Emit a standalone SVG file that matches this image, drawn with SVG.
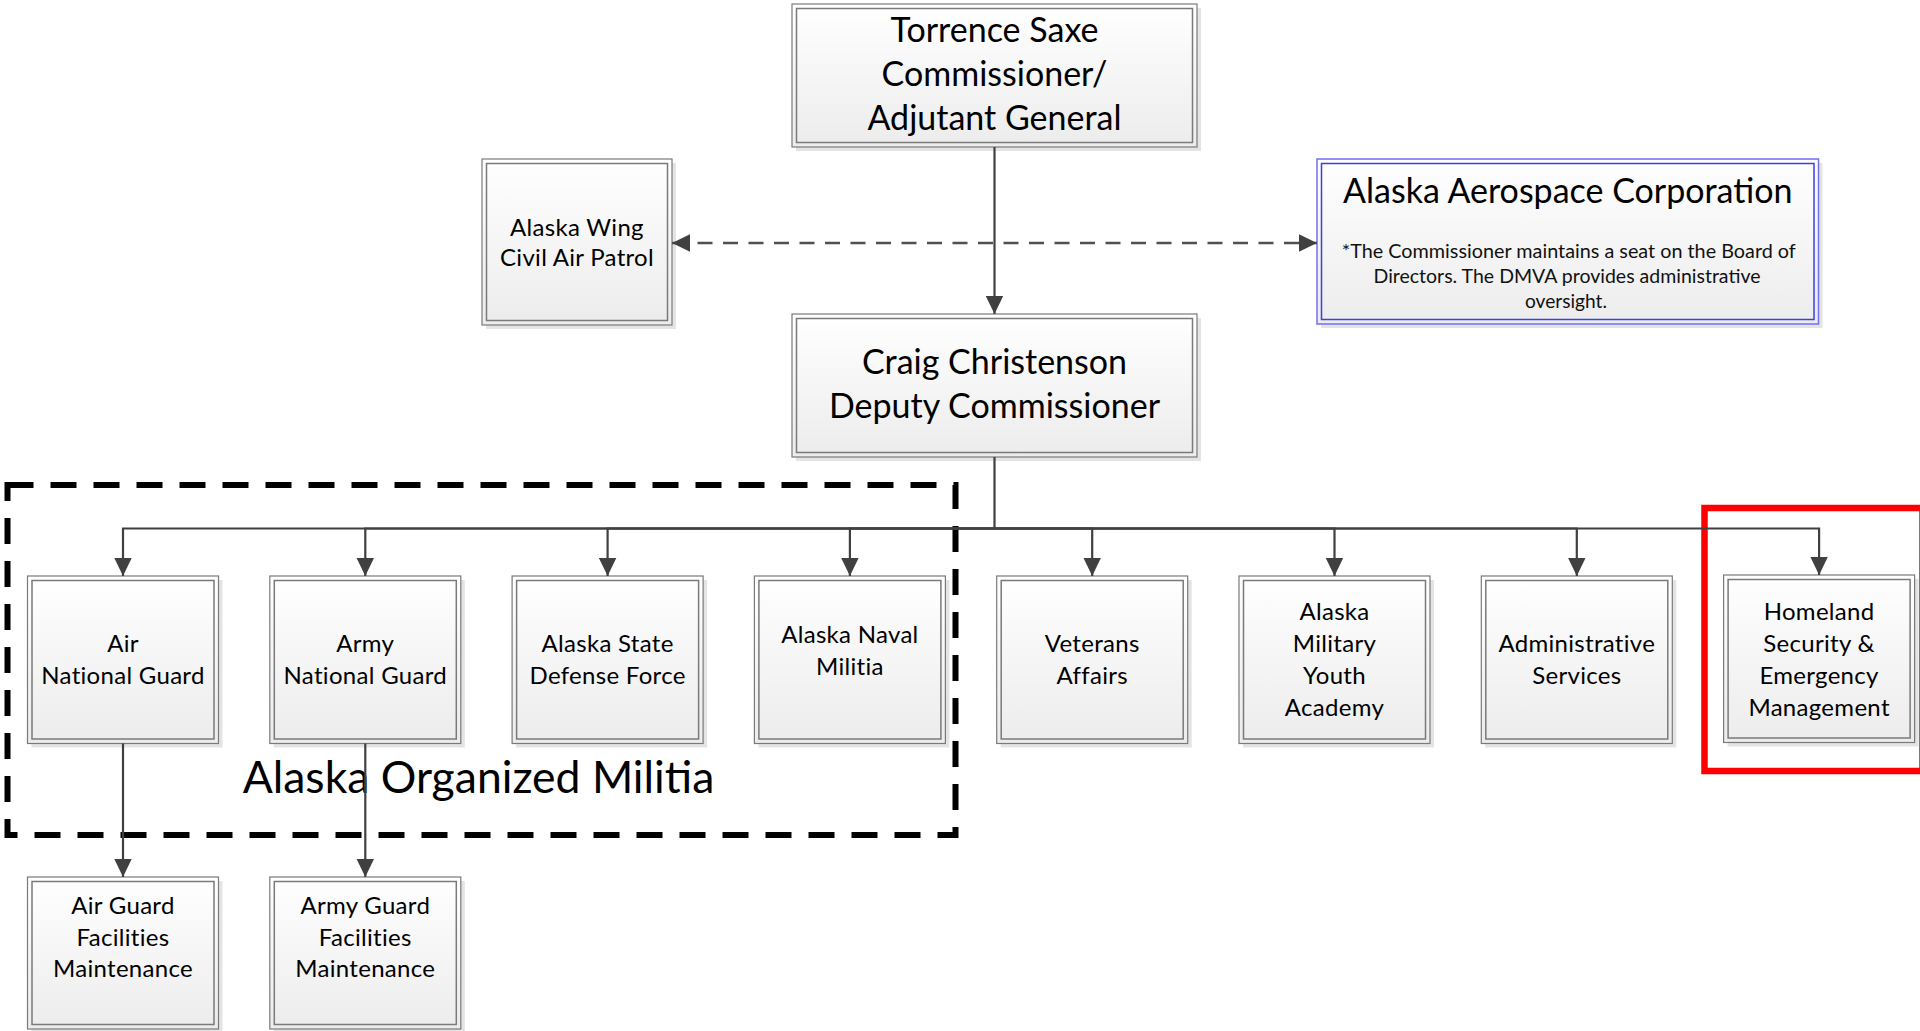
<svg xmlns="http://www.w3.org/2000/svg" width="1920" height="1031" viewBox="0 0 1920 1031">
<defs>
<linearGradient id="g" x1="0" y1="0" x2="0" y2="1">
<stop offset="0" stop-color="#ffffff"/>
<stop offset="1" stop-color="#ececec"/>
</linearGradient>
<marker id="ah" viewBox="0 -9 18 18" refX="18" refY="0" markerWidth="18" markerHeight="18" markerUnits="userSpaceOnUse" orient="auto-start-reverse">
<path d="M0,-8.7 L18,0 L0,8.7 z" fill="#404040"/>
</marker>
<style>
.sh{fill:#e4e4e4;stroke:none}
.ob{fill:url(#g);stroke:#7a7a7a;stroke-width:1.2}
.ib{fill:none;stroke:#7a7a7a;stroke-width:1.5}
.obb{fill:url(#g);stroke:#6f6ff5;stroke-width:1.5}
.ibb{fill:none;stroke:#3d3df0;stroke-width:1.5}
text{font-family:Lato,"Liberation Sans",sans-serif;fill:#000;text-anchor:middle}
.big{font-size:34px}
.sm{font-size:24px;letter-spacing:0.3px}
.note{font-size:19.5px;fill:#111}
.mil{font-size:44.5px}
.con{fill:none;stroke:#404040;stroke-width:2.2}
.dash{fill:none;stroke:#505050;stroke-width:2.6;stroke-dasharray:15 10.5}
</style>
</defs>

<g id="militia-group">
<rect x="7.5" y="485" width="948" height="350" fill="none" stroke="#000" stroke-width="6" stroke-dasharray="26 17"/>
<text class="mil" x="478.5" y="793">Alaska Organized Militia</text>
</g>

<g id="highlight">
<rect x="1704.5" y="508" width="218" height="263" fill="none" stroke="#ff0000" stroke-width="6.5"/>
</g>

<g id="torrence">
<rect class="sh" x="796" y="8" width="405" height="143"/>
<rect class="ob" x="792" y="4" width="405" height="143"/>
<rect class="ib" x="796.5" y="8.5" width="396" height="134"/>
<text class="big" x="994.5" y="42">Torrence Saxe</text>
<text class="big" x="994.5" y="86">Commissioner/</text>
<text class="big" x="994.5" y="129.5">Adjutant General</text>
</g>

<g id="civil-air-patrol">
<rect class="sh" x="486" y="163" width="190" height="166"/>
<rect class="ob" x="482" y="159" width="190" height="166"/>
<rect class="ib" x="486.5" y="163.5" width="181" height="157"/>
<text class="sm" x="577" y="236">Alaska Wing</text>
<text class="sm" x="577" y="265.5">Civil Air Patrol</text>
</g>

<g id="aerospace">
<rect class="sh" x="1321" y="163" width="501.5" height="165"/>
<rect class="obb" x="1317" y="159" width="501.5" height="165"/>
<rect class="ibb" x="1321.5" y="163.5" width="492.5" height="156"/>
<text class="big" x="1567.8" y="203.3">Alaska Aerospace Corporation</text>
<text class="note" x="1568.8" y="258.3" textLength="454" lengthAdjust="spacingAndGlyphs">*The Commissioner maintains a seat on the Board of</text>
<text class="note" x="1567" y="283.3" textLength="387" lengthAdjust="spacingAndGlyphs">Directors. The DMVA provides administrative</text>
<text class="note" x="1566" y="308.3" textLength="82" lengthAdjust="spacingAndGlyphs">oversight.</text>
</g>

<g id="craig">
<rect class="sh" x="796" y="318" width="405" height="143"/>
<rect class="ob" x="792" y="314" width="405" height="143"/>
<rect class="ib" x="796.5" y="318.5" width="396" height="134"/>
<text class="big" x="994.5" y="373.5">Craig Christenson</text>
<text class="big" x="994.5" y="418">Deputy Commissioner</text>
</g>

<g id="air-national-guard">
<rect class="sh" x="31.5" y="580" width="191" height="167.5"/>
<rect class="ob" x="27.5" y="576" width="191" height="167.5"/>
<rect class="ib" x="32" y="580.5" width="182" height="158.5"/>
<text class="sm" x="123" y="652">Air</text>
<text class="sm" x="123" y="684">National Guard</text>
</g>

<g id="army-national-guard">
<rect class="sh" x="273.8" y="580" width="191" height="167.5"/>
<rect class="ob" x="269.8" y="576" width="191" height="167.5"/>
<rect class="ib" x="274.3" y="580.5" width="182" height="158.5"/>
<text class="sm" x="365.3" y="652">Army</text>
<text class="sm" x="365.3" y="684">National Guard</text>
</g>

<g id="state-defense-force">
<rect class="sh" x="516.1" y="580" width="191" height="167.5"/>
<rect class="ob" x="512.1" y="576" width="191" height="167.5"/>
<rect class="ib" x="516.6" y="580.5" width="182" height="158.5"/>
<text class="sm" x="607.6" y="652">Alaska State</text>
<text class="sm" x="607.6" y="684">Defense Force</text>
</g>

<g id="naval-militia">
<rect class="sh" x="758.4" y="580" width="191" height="167.5"/>
<rect class="ob" x="754.4" y="576" width="191" height="167.5"/>
<rect class="ib" x="758.9" y="580.5" width="182" height="158.5"/>
<text class="sm" x="849.9" y="643">Alaska Naval</text>
<text class="sm" x="849.9" y="675">Militia</text>
</g>

<g id="veterans-affairs">
<rect class="sh" x="1000.7" y="580" width="191" height="167.5"/>
<rect class="ob" x="996.7" y="576" width="191" height="167.5"/>
<rect class="ib" x="1001.2" y="580.5" width="182" height="158.5"/>
<text class="sm" x="1092.2" y="652">Veterans</text>
<text class="sm" x="1092.2" y="684">Affairs</text>
</g>

<g id="youth-academy">
<rect class="sh" x="1243" y="580" width="191" height="167.5"/>
<rect class="ob" x="1239" y="576" width="191" height="167.5"/>
<rect class="ib" x="1243.5" y="580.5" width="182" height="158.5"/>
<text class="sm" x="1334.5" y="620">Alaska</text>
<text class="sm" x="1334.5" y="652">Military</text>
<text class="sm" x="1334.5" y="684">Youth</text>
<text class="sm" x="1334.5" y="716">Academy</text>
</g>

<g id="administrative-services">
<rect class="sh" x="1485.3" y="580" width="191" height="167.5"/>
<rect class="ob" x="1481.3" y="576" width="191" height="167.5"/>
<rect class="ib" x="1485.8" y="580.5" width="182" height="158.5"/>
<text class="sm" x="1576.8" y="652">Administrative</text>
<text class="sm" x="1576.8" y="684">Services</text>
</g>

<g id="homeland-security">
<rect class="sh" x="1727.6" y="579" width="191" height="167.5"/>
<rect class="ob" x="1723.6" y="575" width="191" height="167.5"/>
<rect class="ib" x="1728.1" y="579.5" width="182" height="158.5"/>
<text class="sm" x="1819.1" y="620">Homeland</text>
<text class="sm" x="1819.1" y="652">Security &amp;</text>
<text class="sm" x="1819.1" y="684">Emergency</text>
<text class="sm" x="1819.1" y="716">Management</text>
</g>

<g id="air-guard-facilities">
<rect class="sh" x="31.5" y="881" width="191" height="152"/>
<rect class="ob" x="27.5" y="877" width="191" height="152"/>
<rect class="ib" x="32" y="881.5" width="182" height="143"/>
<text class="sm" x="123" y="914">Air Guard</text>
<text class="sm" x="123" y="945.5">Facilities</text>
<text class="sm" x="123" y="977">Maintenance</text>
</g>

<g id="army-guard-facilities">
<rect class="sh" x="273.8" y="881" width="191" height="152"/>
<rect class="ob" x="269.8" y="877" width="191" height="152"/>
<rect class="ib" x="274.3" y="881.5" width="182" height="143"/>
<text class="sm" x="365.3" y="914">Army Guard</text>
<text class="sm" x="365.3" y="945.5">Facilities</text>
<text class="sm" x="365.3" y="977">Maintenance</text>
</g>

<g id="connectors">
<path class="con" d="M994.5,147 V314" marker-end="url(#ah)"/>
<path class="dash" d="M672,243 H1317" marker-start="url(#ah)" marker-end="url(#ah)"/>
<path class="con" d="M994.5,457 V528.5 H123 V576" marker-end="url(#ah)"/>
<path class="con" d="M994.5,528.5 H365.3 V576" marker-end="url(#ah)"/>
<path class="con" d="M994.5,528.5 H607.6 V576" marker-end="url(#ah)"/>
<path class="con" d="M994.5,528.5 H849.9 V576" marker-end="url(#ah)"/>
<path class="con" d="M994.5,528.5 H1092.2 V576" marker-end="url(#ah)"/>
<path class="con" d="M994.5,528.5 H1334.5 V576" marker-end="url(#ah)"/>
<path class="con" d="M994.5,528.5 H1576.8 V576" marker-end="url(#ah)"/>
<path class="con" d="M994.5,528.5 H1819.1 V575" marker-end="url(#ah)"/>
<path class="con" d="M123,743.5 V877" marker-end="url(#ah)"/>
<path class="con" d="M365.3,743.5 V877" marker-end="url(#ah)"/>
</g>
</svg>
